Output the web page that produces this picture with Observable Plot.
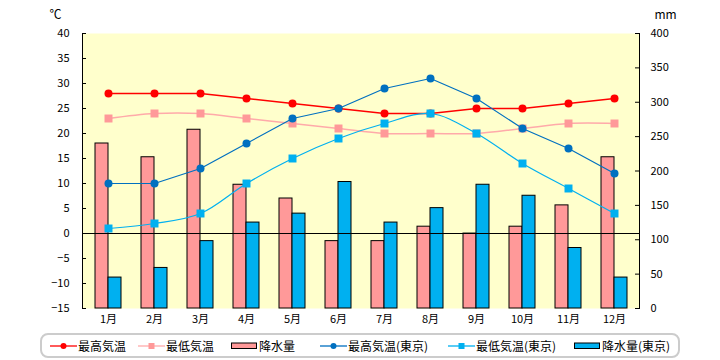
<!DOCTYPE html>
<html>
<head>
<meta charset="utf-8">
<script src="https://cdn.jsdelivr.net/npm/d3@7"></script>
<script src="https://cdn.jsdelivr.net/npm/@observablehq/plot@0.6"></script>
<style>
  body { margin: 0; background: #fff; font-family: "Noto Sans CJK JP", sans-serif; }
  #wrap { position: relative; width: 720px; height: 360px; }
  #legend { position: absolute; left: 40px; top: 333px; width: 640px; height: 25px;
    border: 2px solid #cccccc; border-radius: 8px; box-sizing: border-box; background: #fff; }
  .item { position: absolute; top: 0; height: 21px; display: flex; align-items: center;
    font-size: 12px; color: #000; white-space: nowrap; }
  .item svg { display: block; margin-right: 1px; }
</style>
</head>
<body>
<div id="wrap"><div id="chart"></div><div id="legend"></div></div>
<script>
const months = ["1月","2月","3月","4月","5月","6月","7月","8月","9月","10月","11月","12月"];
const hiTemp      = [28, 28, 28, 27, 26, 25, 24, 24, 25, 25, 26, 27];
const loTemp      = [23, 24, 24, 23, 22, 21, 20, 20, 20, 21, 22, 22];
const rain        = [240, 220, 260, 180, 160, 98, 98, 119, 109, 119, 150, 220];
const hiTempTokyo = [10, 10, 13, 18, 23, 25, 29, 31, 27, 21, 17, 12];
const loTempTokyo = [1, 2, 4, 10, 15, 19, 22, 24, 20, 14, 9, 4];
const rainTokyo   = [45, 59, 98, 125, 138, 184, 125, 146, 180, 164, 88, 45];
const tempTicks = [-15, -10, -5, 0, 5, 10, 15, 20, 25, 30, 35, 40];
const rainTicks = [0, 50, 100, 150, 200, 250, 300, 350, 400];
const seriesNames = ["最高気温", "最低気温", "降水量", "最高気温(東京)", "最低気温(東京)", "降水量(東京)"];
const tempUnit = "℃";
const rainUnit = "mm";

const C = { hi: "#FF0000", lo: "#FF9999", loLine: "#FFAAAA", rain: "#FF9999",
            hiT: "#0070C0", loT: "#00B0F0", rainT: "#00B0F0", bg: "#FFFFCC" };

const data = months.map((m, i) => ({
  month: m, hi: hiTemp[i], lo: loTemp[i], rain: rain[i],
  hiT: hiTempTokyo[i], loT: loTempTokyo[i], rainT: rainTokyo[i]
}));

const toT = mm => mm * 55 / 400 - 15;
const fromT = t => Math.round((t + 15) * 400 / 55);
const font = '"Noto Sans CJK JP", sans-serif';
const frameW = 720 - 82 - 81;

const chart = Plot.plot({
  width: 720, height: 330,
  marginLeft: 82, marginRight: 81, marginTop: 33, marginBottom: 22,
  style: { fontFamily: font, fontSize: "11px", background: "transparent", overflow: "visible", color: "#000" },
  x: { type: "band", domain: months, padding: 0, label: null },
  y: { domain: [-15, 40], label: null },
  marks: [
    Plot.frame({ fill: C.bg, stroke: null }),
    Plot.barY(data, { x: "month", y1: -15, y2: d => toT(d.rain), fill: C.rain, stroke: "#000", strokeWidth: 1, insetLeft: 10, insetRight: 23 }),
    Plot.barY(data, { x: "month", y1: -15, y2: d => toT(d.rainT), fill: C.rainT, stroke: "#000", strokeWidth: 1, insetLeft: 23, insetRight: 10 }),
    Plot.ruleY([0], { stroke: "#000", strokeWidth: 1 }),
    Plot.line(data, { x: "month", y: "hi", stroke: C.hi, strokeWidth: 1.5 }),
    Plot.dot(data, { x: "month", y: "hi", fill: C.hi, r: 4 }),
    Plot.line(data, { x: "month", y: "lo", stroke: C.loLine, strokeWidth: 1.5, curve: "catmull-rom" }),
    Plot.dot(data, { x: "month", y: "lo", fill: C.lo, symbol: "square", r: 4.5 }),
    Plot.line(data, { x: "month", y: "hiT", stroke: C.hiT, strokeWidth: 1.2 }),
    Plot.dot(data, { x: "month", y: "hiT", fill: C.hiT, r: 4 }),
    Plot.line(data, { x: "month", y: "loT", stroke: C.loT, strokeWidth: 1.2, curve: "catmull-rom" }),
    Plot.dot(data, { x: "month", y: "loT", fill: C.loT, symbol: "square", r: 4.5 }),
    Plot.axisX({ tickSize: 0, tickPadding: 7, fontSize: 11, label: null }),
    Plot.axisY(tempTicks, { anchor: "left", tickSize: 0, tickPadding: 13, fontSize: 11, label: null }),
    Plot.axisY(rainTicks.map(toT), { anchor: "right", tickSize: 0, tickPadding: 11, fontSize: 11, tickFormat: fromT, label: null }),
    Plot.tickY(tempTicks, { y: d => d, stroke: "#000", insetRight: frameW - 4 }),
    Plot.tickY(rainTicks, { y: d => toT(d), stroke: "#000", insetLeft: frameW - 4 }),
    Plot.frame({ anchor: "left", stroke: "#000" }),
    Plot.frame({ anchor: "right", stroke: "#000" }),
    Plot.text([tempUnit], { frameAnchor: "top-left", dx: -27, dy: -18, textAnchor: "middle", lineAnchor: "middle", fontSize: 12 }),
    Plot.text([rainUnit], { frameAnchor: "top-right", dx: 26, dy: -18, textAnchor: "middle", lineAnchor: "middle", fontSize: 12 })
  ]
});
document.getElementById("chart").appendChild(chart);

// Legend
const legendDefs = [
  { kind: "line", color: C.hi, lineColor: C.hi, symbol: "circle" },
  { kind: "line", color: C.lo, lineColor: C.loLine, symbol: "square" },
  { kind: "rect", color: C.rain },
  { kind: "line", color: C.hiT, lineColor: C.hiT, symbol: "circle" },
  { kind: "line", color: C.loT, lineColor: C.loT, symbol: "square" },
  { kind: "rect", color: C.rainT }
];
const legendLeft = [8, 96, 189, 278, 406, 532];
const legend = d3.select("#legend");
legendDefs.forEach((def, i) => {
  const item = legend.append("div").attr("class", "item").style("left", legendLeft[i] + "px");
  const svg = item.append("svg").attr("width", 27).attr("height", 12);
  if (def.kind === "line") {
    svg.append("line").attr("x1", 0).attr("x2", 27).attr("y1", 6).attr("y2", 6)
      .attr("stroke", def.lineColor).attr("stroke-width", 1.3);
    if (def.symbol === "circle") svg.append("circle").attr("cx", 13.5).attr("cy", 6).attr("r", 3).attr("fill", def.color);
    else svg.append("rect").attr("x", 10.5).attr("y", 3).attr("width", 6).attr("height", 6).attr("fill", def.color);
  } else {
    svg.append("rect").attr("x", 0.5).attr("y", 3).attr("width", 25).attr("height", 5.5)
      .attr("fill", def.color).attr("stroke", "#000").attr("stroke-width", 1);
  }
  item.append("span").text(seriesNames[i]);
});
</script>
</body>
</html>
